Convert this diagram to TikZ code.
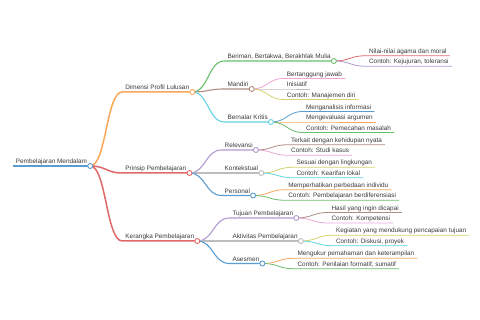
\documentclass[tikz,border=0pt]{standalone}
\usepackage{fontspec}
\setmainfont{Liberation Sans}
\definecolor{txt}{HTML}{3A3A3A}
\definecolor{cblue}{HTML}{5A9DD2}
\definecolor{corange}{HTML}{F9A85A}
\definecolor{cgreen}{HTML}{6ABD6A}
\definecolor{cred}{HTML}{E06A6B}
\definecolor{cpurple}{HTML}{B19AD2}
\definecolor{cbrown}{HTML}{B08C85}
\definecolor{cpink}{HTML}{EDA6D8}
\definecolor{cgray}{HTML}{BDBDBD}
\definecolor{colive}{HTML}{D3D46C}
\definecolor{ccyan}{HTML}{62D4E1}

\begin{document}
\begin{tikzpicture}[
    x=1pt, y=-1pt,
    topic/.style={font=\fontsize{6.4}{7.5}\selectfont, text=txt, inner xsep=3pt, inner ysep=1pt, anchor=base west},
    dot/.style={fill=white, line width=0.9pt}
  ]
  \path[fill=white, use as bounding box] (0,0) rectangle (480,320);

  \node[topic] (root) at (12.7,163.7) {Pembelajaran Mendalam};

  % level 1
  \node[topic] (dim) at ([shift={(32,-74)}]root.base east) {Dimensi Profil Lulusan};
  \node[topic] (pri) at ([shift={(32,7)}]root.base east) {Prinsip Pembelajaran};
  \node[topic] (ker) at ([shift={(32,75)}]root.base east) {Kerangka Pembelajaran};

  % level 2
  \node[topic] (bri) at ([shift={(32,-31)}]dim.base east) {Beriman, Bertakwa, Berakhlak Mulia};
  \node[topic] (man) at ([shift={(32,-3)}]dim.base east) {Mandiri};
  \node[topic] (ber) at ([shift={(32,30)}]dim.base east) {Bernalar Kritis};
  \node[topic] (rel) at ([shift={(32,-23)}]pri.base east) {Relevansi};
  \node[topic] (kon) at ([shift={(32,0)}]pri.base east) {Kontekstual};
  \node[topic] (per) at ([shift={(32,22.5)}]pri.base east) {Personal};
  \node[topic] (tuj) at ([shift={(32,-23)}]ker.base east) {Tujuan Pembelajaran};
  \node[topic] (akt) at ([shift={(32,0)}]ker.base east) {Aktivitas Pembelajaran};
  \node[topic] (ase) at ([shift={(32,22.5)}]ker.base east) {Asesmen};

  % level 3
  \node[topic] (nil) at ([shift={(32,-5.25)}]bri.base east) {Nilai-nilai agama dan moral};
  \node[topic] (kej) at ([shift={(32,5.25)}]bri.base east) {Contoh: Kejujuran, toleransi};
  \node[topic] (tan) at ([shift={(32,-10.5)}]man.base east) {Bertanggung jawab};
  \node[topic] (ini) at ([shift={(32,0)}]man.base east) {Inisiatif};
  \node[topic] (mdi) at ([shift={(32,10.5)}]man.base east) {Contoh: Manajemen diri};
  \node[topic] (ana) at ([shift={(32,-10.5)}]ber.base east) {Menganalisis informasi};
  \node[topic] (eva) at ([shift={(32,0)}]ber.base east) {Mengevaluasi argumen};
  \node[topic] (pmc) at ([shift={(32,10.5)}]ber.base east) {Contoh: Pemecahan masalah};
  \node[topic] (ter) at ([shift={(32,-5.25)}]rel.base east) {Terkait dengan kehidupan nyata};
  \node[topic] (stu) at ([shift={(32,5.25)}]rel.base east) {Contoh: Studi kasus};
  \node[topic] (ses) at ([shift={(32,-5.75)}]kon.base east) {Sesuai dengan lingkungan};
  \node[topic] (kea) at ([shift={(32,4.75)}]kon.base east) {Contoh: Kearifan lokal};
  \node[topic] (mem) at ([shift={(32,-5.75)}]per.base east) {Memperhatikan perbedaan individu};
  \node[topic] (dif) at ([shift={(32,4.75)}]per.base east) {Contoh: Pembelajaran berdiferensiasi};
  \node[topic] (has) at ([shift={(32,-5.5)}]tuj.base east) {Hasil yang ingin dicapai};
  \node[topic] (kom) at ([shift={(32,5)}]tuj.base east) {Contoh: Kompetensi};
  \node[topic] (keg) at ([shift={(32,-5.75)}]akt.base east) {Kegiatan yang mendukung pencapaian tujuan};
  \node[topic] (dis) at ([shift={(32,4.75)}]akt.base east) {Contoh: Diskusi, proyek};
  \node[topic] (ukr) at ([shift={(32,-5.25)}]ase.base east) {Mengukur pemahaman dan keterampilan};
  \node[topic] (pen) at ([shift={(32,5.25)}]ase.base east) {Contoh: Penilaian formatif, sumatif};

  % underline of the root
  \draw[cblue, line width=1.5pt] ([yshift=-2.3pt]root.base west) -- ([yshift=-2.3pt]root.base east);

  % links and underlines
  \foreach \p/\n/\c/\w in {root/dim/corange/1.5, root/pri/cred/1.5, root/ker/cred/1.5,
      dim/bri/cgreen/1.1, dim/man/cbrown/1.1, dim/ber/ccyan/1.1,
      pri/rel/cpurple/1.1, pri/kon/cgray/1.1, pri/per/cblue/1.1,
      ker/tuj/cpurple/1.1, ker/akt/cgray/1.1, ker/ase/cblue/1.1,
      bri/nil/cred/0.8, bri/kej/cpurple/0.8,
      man/tan/cpink/0.8, man/ini/cgray/0.8, man/mdi/colive/0.8,
      ber/ana/cblue/0.8, ber/eva/corange/0.8, ber/pmc/cgreen/0.8,
      rel/ter/cbrown/0.8, rel/stu/cpink/0.8,
      kon/ses/colive/0.8, kon/kea/ccyan/0.8,
      per/mem/corange/0.8, per/dif/cgreen/0.8,
      tuj/has/cbrown/0.8, tuj/kom/cpink/0.8,
      akt/keg/colive/0.8, akt/dis/ccyan/0.8,
      ase/ukr/corange/0.8, ase/pen/cgreen/0.8}
    \draw[\c, line width=\w pt] ([yshift=-2.3pt]\p.base east)
      .. controls ([shift={(16pt,-2.3pt)}]\p.base east) and ([shift={(-16pt,-2.3pt)}]\n.base west)
      .. ([yshift=-2.3pt]\n.base west) -- ([yshift=-2.3pt]\n.base east);

  % circles at branching points
  \foreach \n/\c in {root/cblue, dim/corange, pri/cred, ker/cred,
      bri/cgreen, man/cbrown, ber/ccyan, rel/cpurple, kon/cgray, per/cblue,
      tuj/cpurple, akt/cgray, ase/cblue}
    \draw[dot, draw=\c] ([yshift=-2.3pt]\n.base east) circle (2.5pt);
\end{tikzpicture}
\end{document}
